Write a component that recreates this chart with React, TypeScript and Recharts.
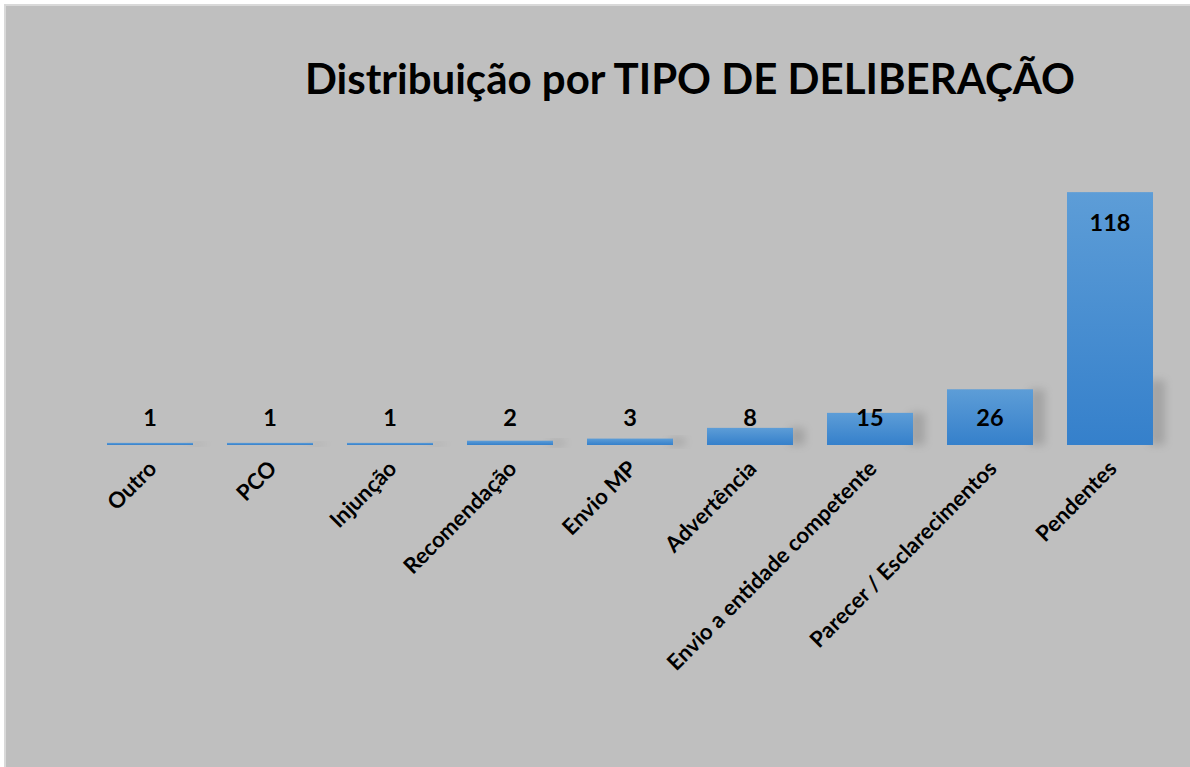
import React from "react";
import { BarChart, Bar, XAxis, YAxis, LabelList } from "recharts";

const categories = [
  "Outro",
  "PCO",
  "Injunção",
  "Recomendação",
  "Envio MP",
  "Advertência",
  "Envio a entidade competente",
  "Parecer / Esclarecimentos",
  "Pendentes",
];
const values = [1, 1, 1, 2, 3, 8, 15, 26, 118];
const title = "Distribuição por TIPO DE DELIBERAÇÃO";

const data = categories.map((name, i) => ({ name, value: values[i] }));

const FONT = "Lato, 'Open Sans', sans-serif";

const BarShape = (props: any) => {
  const { x, y, width, height } = props;
  if (width == null || height == null) return null;
  const base = y + height;
  const shTop = Math.max(y, base - 65);
  return (
    <g>
      <rect
        x={x + width - 4}
        y={shTop}
        width={16}
        height={base - shTop}
        fill="#7a7a7a"
        opacity={0.4}
        filter="url(#shBlur)"
      />
      <rect x={x} y={y} width={width} height={height} fill="url(#barGrad)" />
    </g>
  );
};

const ValueLabel = (props: any) => {
  const { x, y, width, height, value } = props;
  const cy = Math.min(y + 30, y + height - 28);
  return (
    <text
      x={x + width / 2}
      y={cy}
      textAnchor="middle"
      dominantBaseline="central"
      fontFamily={FONT}
      fontWeight={700}
      fontSize={23.5}
      fill="#000"
    >
      {value}
    </text>
  );
};

const Tick = (props: any) => {
  const { x, y, payload } = props;
  return (
    <g transform={`translate(${x + 8},${y + 17})`}>
      <text
        x={0}
        y={0}
        textAnchor="end"
        transform="rotate(-45)"
        fontFamily={FONT}
        fontWeight={700}
        fontSize={22}
        fill="#000"
      >
        {payload.value}
      </text>
    </g>
  );
};

export default function App() {
  return (
    <div
      style={{
        position: "absolute",
        left: 0,
        top: 0,
        width: 1190,
        height: 767,
        background: "#ffffff",
        overflow: "hidden",
      }}
    >
      <div
        style={{
          position: "absolute",
          left: 4,
          top: 4,
          width: 1186,
          height: 763,
          background: "#bfbfbf",
          borderLeft: "2px solid #d9d9d9",
          borderTop: "2px solid #d9d9d9",
          boxSizing: "border-box",
        }}
      />
      <div style={{ position: "absolute", left: 5, top: 5 }}>
        <BarChart
          width={1185}
          height={762}
          data={data}
          margin={{ top: 140, right: 20, left: 85, bottom: 22 }}
        >
          <defs>
            <linearGradient id="barGrad" x1="0" y1="0" x2="0" y2="1">
              <stop offset="0%" stopColor="#5d9dd7" />
              <stop offset="100%" stopColor="#3580cb" />
            </linearGradient>
            <filter id="shBlur" x="-100%" y="-50%" width="300%" height="200%">
              <feGaussianBlur stdDeviation="4" />
            </filter>
          </defs>
          <XAxis
            dataKey="name"
            axisLine={false}
            tickLine={false}
            height={300}
            interval={0}
            tick={<Tick />}
          />
          <YAxis hide domain={[0, 140]} />
          <Bar
            dataKey="value"
            barSize={86}
            shape={<BarShape />}
            isAnimationActive={false}
          >
            <LabelList dataKey="value" content={<ValueLabel />} />
          </Bar>
        </BarChart>
      </div>
      <svg
        width={1190}
        height={767}
        style={{ position: "absolute", left: 0, top: 0, pointerEvents: "none" }}
      >
        <text
          x={690}
          y={94}
          textAnchor="middle"
          fontFamily={FONT}
          fontWeight={700}
          fontSize={42}
          fill="#000"
        >
          {title}
        </text>
      </svg>
    </div>
  );
}
